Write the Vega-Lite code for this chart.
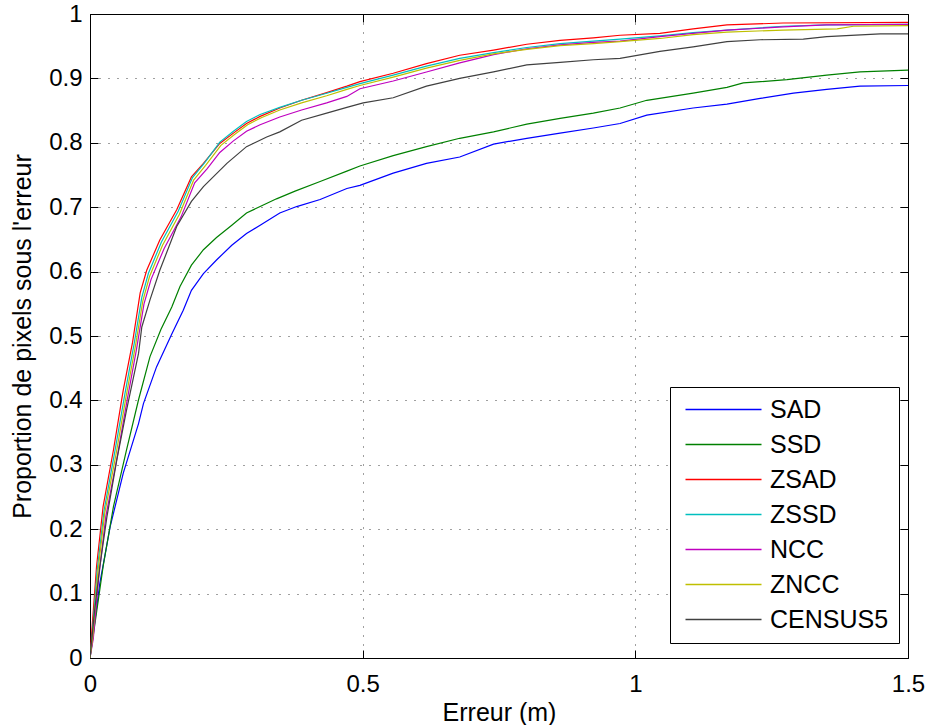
{
  "$schema": "https://vega.github.io/schema/vega-lite/v6.json",
  "width": 818,
  "height": 644,
  "autosize": {"type": "none"},
  "padding": {"left": 90, "top": 14, "right": 21, "bottom": 67},
  "background": "white",
  "config": {
    "view": {"stroke": "#000", "strokeWidth": 1},
    "font": "Liberation Sans",
    "axis": {
      "labelFont": "Liberation Sans", "labelFontSize": 24, "labelColor": "#000",
      "titleFont": "Liberation Sans", "titleFontSize": 25, "titleFontWeight": "normal", "titleColor": "#000",
      "tickColor": "#000", "tickSize": -8, "tickWidth": 1, "domainColor": "#000",
      "gridColor": "#000", "gridDash": [1, 8], "gridOpacity": 0.75, "gridWidth": 1,
      "labelFlush": false, "labelOverlap": false
    }
  },
  "data": {"values": [
    {"m":"SAD","x":0,"y":0},{"m":"SAD","x":0.018,"y":0.116},{"m":"SAD","x":0.037,"y":0.204},{"m":"SAD","x":0.061,"y":0.287},{"m":"SAD","x":0.089,"y":0.364},{"m":"SAD","x":0.098,"y":0.395},{"m":"SAD","x":0.122,"y":0.452},{"m":"SAD","x":0.15,"y":0.503},{"m":"SAD","x":0.171,"y":0.54},{"m":"SAD","x":0.186,"y":0.571},{"m":"SAD","x":0.208,"y":0.597},{"m":"SAD","x":0.232,"y":0.618},{"m":"SAD","x":0.26,"y":0.641},{"m":"SAD","x":0.287,"y":0.659},{"m":"SAD","x":0.312,"y":0.672},{"m":"SAD","x":0.348,"y":0.691},{"m":"SAD","x":0.379,"y":0.701},{"m":"SAD","x":0.422,"y":0.712},{"m":"SAD","x":0.471,"y":0.729},{"m":"SAD","x":0.495,"y":0.734},{"m":"SAD","x":0.556,"y":0.753},{"m":"SAD","x":0.617,"y":0.768},{"m":"SAD","x":0.678,"y":0.778},{"m":"SAD","x":0.74,"y":0.798},{"m":"SAD","x":0.801,"y":0.807},{"m":"SAD","x":0.862,"y":0.815},{"m":"SAD","x":0.923,"y":0.823},{"m":"SAD","x":0.972,"y":0.83},{"m":"SAD","x":1.021,"y":0.843},{"m":"SAD","x":1.106,"y":0.854},{"m":"SAD","x":1.168,"y":0.86},{"m":"SAD","x":1.229,"y":0.869},{"m":"SAD","x":1.29,"y":0.877},{"m":"SAD","x":1.351,"y":0.883},{"m":"SAD","x":1.412,"y":0.888},{"m":"SAD","x":1.5,"y":0.889},
    {"m":"SSD","x":0,"y":0},{"m":"SSD","x":0.024,"y":0.142},{"m":"SSD","x":0.043,"y":0.235},{"m":"SSD","x":0.067,"y":0.323},{"m":"SSD","x":0.089,"y":0.401},{"m":"SSD","x":0.11,"y":0.468},{"m":"SSD","x":0.13,"y":0.51},{"m":"SSD","x":0.15,"y":0.545},{"m":"SSD","x":0.165,"y":0.577},{"m":"SSD","x":0.186,"y":0.61},{"m":"SSD","x":0.208,"y":0.634},{"m":"SSD","x":0.232,"y":0.653},{"m":"SSD","x":0.26,"y":0.672},{"m":"SSD","x":0.287,"y":0.691},{"m":"SSD","x":0.312,"y":0.701},{"m":"SSD","x":0.342,"y":0.713},{"m":"SSD","x":0.376,"y":0.725},{"m":"SSD","x":0.422,"y":0.74},{"m":"SSD","x":0.471,"y":0.756},{"m":"SSD","x":0.495,"y":0.764},{"m":"SSD","x":0.556,"y":0.78},{"m":"SSD","x":0.617,"y":0.794},{"m":"SSD","x":0.678,"y":0.807},{"m":"SSD","x":0.74,"y":0.817},{"m":"SSD","x":0.801,"y":0.829},{"m":"SSD","x":0.862,"y":0.838},{"m":"SSD","x":0.923,"y":0.846},{"m":"SSD","x":0.972,"y":0.854},{"m":"SSD","x":1.021,"y":0.866},{"m":"SSD","x":1.106,"y":0.877},{"m":"SSD","x":1.168,"y":0.886},{"m":"SSD","x":1.198,"y":0.893},{"m":"SSD","x":1.278,"y":0.898},{"m":"SSD","x":1.351,"y":0.905},{"m":"SSD","x":1.412,"y":0.91},{"m":"SSD","x":1.5,"y":0.913},
    {"m":"ZSAD","x":0,"y":0},{"m":"ZSAD","x":0.003,"y":0.038},{"m":"ZSAD","x":0.012,"y":0.142},{"m":"ZSAD","x":0.024,"y":0.235},{"m":"ZSAD","x":0.043,"y":0.323},{"m":"ZSAD","x":0.061,"y":0.416},{"m":"ZSAD","x":0.078,"y":0.49},{"m":"ZSAD","x":0.092,"y":0.567},{"m":"ZSAD","x":0.104,"y":0.602},{"m":"ZSAD","x":0.128,"y":0.649},{"m":"ZSAD","x":0.159,"y":0.696},{"m":"ZSAD","x":0.186,"y":0.747},{"m":"ZSAD","x":0.208,"y":0.768},{"m":"ZSAD","x":0.238,"y":0.799},{"m":"ZSAD","x":0.263,"y":0.815},{"m":"ZSAD","x":0.287,"y":0.83},{"m":"ZSAD","x":0.312,"y":0.841},{"m":"ZSAD","x":0.348,"y":0.854},{"m":"ZSAD","x":0.388,"y":0.866},{"m":"ZSAD","x":0.434,"y":0.878},{"m":"ZSAD","x":0.471,"y":0.888},{"m":"ZSAD","x":0.495,"y":0.895},{"m":"ZSAD","x":0.556,"y":0.908},{"m":"ZSAD","x":0.617,"y":0.923},{"m":"ZSAD","x":0.678,"y":0.936},{"m":"ZSAD","x":0.74,"y":0.944},{"m":"ZSAD","x":0.801,"y":0.953},{"m":"ZSAD","x":0.862,"y":0.959},{"m":"ZSAD","x":0.923,"y":0.963},{"m":"ZSAD","x":0.972,"y":0.967},{"m":"ZSAD","x":1.045,"y":0.97},{"m":"ZSAD","x":1.106,"y":0.977},{"m":"ZSAD","x":1.168,"y":0.983},{"m":"ZSAD","x":1.271,"y":0.986},{"m":"ZSAD","x":1.5,"y":0.987},
    {"m":"ZSSD","x":0,"y":0},{"m":"ZSSD","x":0.004,"y":0.035},{"m":"ZSSD","x":0.013,"y":0.135},{"m":"ZSSD","x":0.026,"y":0.23},{"m":"ZSSD","x":0.045,"y":0.318},{"m":"ZSSD","x":0.064,"y":0.41},{"m":"ZSSD","x":0.081,"y":0.488},{"m":"ZSSD","x":0.095,"y":0.56},{"m":"ZSSD","x":0.107,"y":0.597},{"m":"ZSSD","x":0.131,"y":0.646},{"m":"ZSSD","x":0.162,"y":0.694},{"m":"ZSSD","x":0.188,"y":0.746},{"m":"ZSSD","x":0.21,"y":0.769},{"m":"ZSSD","x":0.238,"y":0.801},{"m":"ZSSD","x":0.263,"y":0.818},{"m":"ZSSD","x":0.287,"y":0.833},{"m":"ZSSD","x":0.312,"y":0.844},{"m":"ZSSD","x":0.348,"y":0.855},{"m":"ZSSD","x":0.388,"y":0.866},{"m":"ZSSD","x":0.434,"y":0.877},{"m":"ZSSD","x":0.471,"y":0.886},{"m":"ZSSD","x":0.495,"y":0.892},{"m":"ZSSD","x":0.556,"y":0.905},{"m":"ZSSD","x":0.617,"y":0.919},{"m":"ZSSD","x":0.678,"y":0.931},{"m":"ZSSD","x":0.74,"y":0.94},{"m":"ZSSD","x":0.801,"y":0.948},{"m":"ZSSD","x":0.862,"y":0.954},{"m":"ZSSD","x":0.923,"y":0.958},{"m":"ZSSD","x":0.972,"y":0.961},{"m":"ZSSD","x":1.045,"y":0.966},{"m":"ZSSD","x":1.106,"y":0.971},{"m":"ZSSD","x":1.168,"y":0.975},{"m":"ZSSD","x":1.271,"y":0.981},{"m":"ZSSD","x":1.35,"y":0.983},{"m":"ZSSD","x":1.5,"y":0.984},
    {"m":"NCC","x":0,"y":0},{"m":"NCC","x":0.006,"y":0.03},{"m":"NCC","x":0.016,"y":0.125},{"m":"NCC","x":0.029,"y":0.22},{"m":"NCC","x":0.049,"y":0.308},{"m":"NCC","x":0.068,"y":0.4},{"m":"NCC","x":0.085,"y":0.478},{"m":"NCC","x":0.099,"y":0.55},{"m":"NCC","x":0.112,"y":0.588},{"m":"NCC","x":0.136,"y":0.636},{"m":"NCC","x":0.167,"y":0.685},{"m":"NCC","x":0.192,"y":0.738},{"m":"NCC","x":0.215,"y":0.76},{"m":"NCC","x":0.238,"y":0.785},{"m":"NCC","x":0.263,"y":0.803},{"m":"NCC","x":0.287,"y":0.818},{"m":"NCC","x":0.312,"y":0.828},{"m":"NCC","x":0.348,"y":0.84},{"m":"NCC","x":0.388,"y":0.851},{"m":"NCC","x":0.434,"y":0.862},{"m":"NCC","x":0.471,"y":0.872},{"m":"NCC","x":0.495,"y":0.884},{"m":"NCC","x":0.556,"y":0.896},{"m":"NCC","x":0.617,"y":0.91},{"m":"NCC","x":0.678,"y":0.924},{"m":"NCC","x":0.74,"y":0.937},{"m":"NCC","x":0.801,"y":0.946},{"m":"NCC","x":0.862,"y":0.952},{"m":"NCC","x":0.923,"y":0.956},{"m":"NCC","x":0.972,"y":0.958},{"m":"NCC","x":1.045,"y":0.965},{"m":"NCC","x":1.106,"y":0.97},{"m":"NCC","x":1.168,"y":0.975},{"m":"NCC","x":1.271,"y":0.98},{"m":"NCC","x":1.35,"y":0.983},{"m":"NCC","x":1.5,"y":0.984},
    {"m":"ZNCC","x":0,"y":0},{"m":"ZNCC","x":0.005,"y":0.033},{"m":"ZNCC","x":0.014,"y":0.13},{"m":"ZNCC","x":0.027,"y":0.225},{"m":"ZNCC","x":0.047,"y":0.313},{"m":"ZNCC","x":0.066,"y":0.405},{"m":"ZNCC","x":0.083,"y":0.483},{"m":"ZNCC","x":0.097,"y":0.555},{"m":"ZNCC","x":0.109,"y":0.592},{"m":"ZNCC","x":0.133,"y":0.641},{"m":"ZNCC","x":0.164,"y":0.689},{"m":"ZNCC","x":0.19,"y":0.742},{"m":"ZNCC","x":0.212,"y":0.765},{"m":"ZNCC","x":0.24,"y":0.796},{"m":"ZNCC","x":0.265,"y":0.813},{"m":"ZNCC","x":0.289,"y":0.828},{"m":"ZNCC","x":0.314,"y":0.839},{"m":"ZNCC","x":0.348,"y":0.851},{"m":"ZNCC","x":0.388,"y":0.862},{"m":"ZNCC","x":0.434,"y":0.873},{"m":"ZNCC","x":0.471,"y":0.883},{"m":"ZNCC","x":0.495,"y":0.889},{"m":"ZNCC","x":0.556,"y":0.902},{"m":"ZNCC","x":0.617,"y":0.916},{"m":"ZNCC","x":0.678,"y":0.928},{"m":"ZNCC","x":0.74,"y":0.938},{"m":"ZNCC","x":0.801,"y":0.945},{"m":"ZNCC","x":0.862,"y":0.951},{"m":"ZNCC","x":0.923,"y":0.954},{"m":"ZNCC","x":0.972,"y":0.957},{"m":"ZNCC","x":1.045,"y":0.962},{"m":"ZNCC","x":1.106,"y":0.968},{"m":"ZNCC","x":1.168,"y":0.972},{"m":"ZNCC","x":1.271,"y":0.975},{"m":"ZNCC","x":1.37,"y":0.977},{"m":"ZNCC","x":1.4,"y":0.981},{"m":"ZNCC","x":1.5,"y":0.982},
    {"m":"CENSUS5","x":0,"y":0},{"m":"CENSUS5","x":0.008,"y":0.07},{"m":"CENSUS5","x":0.018,"y":0.142},{"m":"CENSUS5","x":0.031,"y":0.219},{"m":"CENSUS5","x":0.049,"y":0.307},{"m":"CENSUS5","x":0.067,"y":0.385},{"m":"CENSUS5","x":0.089,"y":0.473},{"m":"CENSUS5","x":0.095,"y":0.514},{"m":"CENSUS5","x":0.11,"y":0.556},{"m":"CENSUS5","x":0.128,"y":0.602},{"m":"CENSUS5","x":0.159,"y":0.67},{"m":"CENSUS5","x":0.186,"y":0.709},{"m":"CENSUS5","x":0.208,"y":0.732},{"m":"CENSUS5","x":0.251,"y":0.768},{"m":"CENSUS5","x":0.287,"y":0.794},{"m":"CENSUS5","x":0.324,"y":0.809},{"m":"CENSUS5","x":0.348,"y":0.817},{"m":"CENSUS5","x":0.388,"y":0.835},{"m":"CENSUS5","x":0.434,"y":0.846},{"m":"CENSUS5","x":0.471,"y":0.855},{"m":"CENSUS5","x":0.501,"y":0.862},{"m":"CENSUS5","x":0.556,"y":0.87},{"m":"CENSUS5","x":0.617,"y":0.888},{"m":"CENSUS5","x":0.678,"y":0.9},{"m":"CENSUS5","x":0.74,"y":0.91},{"m":"CENSUS5","x":0.801,"y":0.921},{"m":"CENSUS5","x":0.862,"y":0.925},{"m":"CENSUS5","x":0.923,"y":0.929},{"m":"CENSUS5","x":0.972,"y":0.931},{"m":"CENSUS5","x":1.045,"y":0.942},{"m":"CENSUS5","x":1.106,"y":0.949},{"m":"CENSUS5","x":1.168,"y":0.957},{"m":"CENSUS5","x":1.229,"y":0.96},{"m":"CENSUS5","x":1.308,"y":0.961},{"m":"CENSUS5","x":1.351,"y":0.965},{"m":"CENSUS5","x":1.449,"y":0.969},{"m":"CENSUS5","x":1.5,"y":0.969}
  ]},
  "layer": [
    {
      "mark": {"type": "line", "strokeWidth": 1.2, "clip": true},
      "encoding": {
        "x": {"field": "x", "type": "quantitative",
              "scale": {"domain": [0, 1.5], "nice": false, "zero": false},
              "axis": {"orient": "bottom", "values": [0, 0.5, 1, 1.5], "format": "~g", "title": "Erreur (m)",
                       "grid": true, "domain": false, "labelPadding": 22, "titlePadding": 4}},
        "y": {"field": "y", "type": "quantitative",
              "scale": {"domain": [0, 1], "nice": false},
              "axis": {"orient": "left", "values": [0, 0.1, 0.2, 0.3, 0.4, 0.5, 0.6, 0.7, 0.8, 0.9, 1], "format": "~g",
                       "title": "Proportion de pixels sous l'erreur", "grid": true, "domain": false,
                       "labelPadding": 16, "titlePadding": 13}},
        "color": {"field": "m", "type": "nominal", "sort": null,
                  "scale": {"domain": ["SAD", "SSD", "ZSAD", "ZSSD", "NCC", "ZNCC", "CENSUS5"],
                            "range": ["#0000ff", "#008000", "#ff0000", "#00bfbf", "#bf00bf", "#bfbf00", "#404040"]},
                  "legend": {"title": null, "orient": "none", "legendX": 580, "legendY": 373,
                             "fillColor": "#ffffff", "strokeColor": "#000000", "padding": 10,
                             "symbolType": "M-4,0H4", "symbolSize": 361, "symbolStrokeWidth": 1.3,
                             "symbolOffset": 31, "labelOffset": 34, "rowPadding": 9,
                             "labelFont": "Liberation Sans", "labelFontSize": 25, "labelColor": "#000",
                             "labelLimit": 300}}
      }
    },
    {
      "mark": {"type": "point", "opacity": 0},
      "encoding": {
        "x": {"field": "x", "type": "quantitative",
              "axis": {"orient": "top", "values": [0, 0.5, 1, 1.5], "labels": false, "title": null, "grid": false, "domain": false}},
        "y": {"field": "y", "type": "quantitative",
              "axis": {"orient": "right", "values": [0, 0.1, 0.2, 0.3, 0.4, 0.5, 0.6, 0.7, 0.8, 0.9, 1], "labels": false, "title": null, "grid": false, "domain": false}}
      }
    }
  ],
  "resolve": {"axis": {"x": "independent", "y": "independent"}}
}
